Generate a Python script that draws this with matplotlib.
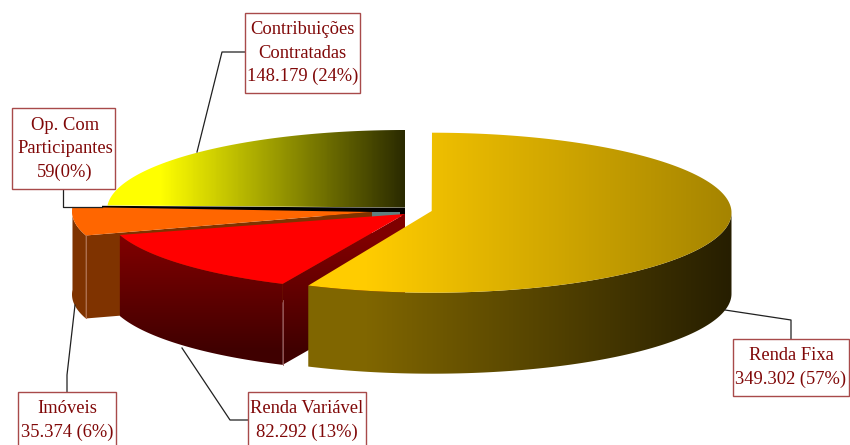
import numpy as np
import matplotlib
matplotlib.use("Agg")
import matplotlib.pyplot as plt
from matplotlib.patches import Polygon, Rectangle
from matplotlib.colors import LinearSegmentedColormap

# ---- data ----
names = ["Renda Fixa", "Renda Variável", "Imóveis", "Op. Com Participantes", "Contribuições Contratadas"]
values = [349302, 82292, 35374, 59, 148179]
label_texts = ["Renda Fixa\n349.302 (57%)", "Renda Variável\n82.292 (13%)", "Imóveis\n35.374 (6%)",
               "Op. Com\nParticipantes\n59(0%)", "Contribuições\nContratadas\n148.179 (24%)"]

# ---- layout (pixels) ----
W, H = 850, 445
RY, DEPTH = 80, 81
radii = [299.5, 301, 301, 301, 298]
centres = [(432, 212.7), (407, 211), (373, 211.5), (403, 209), (405, 210)]
apexes = [(431.7, 211), (405, 214), (372, 212), (403, 209), (405, 207.5)]
boxes = [(733, 339, 849, 396), (248, 392, 366, 446), (18, 392, 116, 446),
         (12, 108, 115, 189), (245, 13, 360, 93)]
text_dx = [0, 0, 0, 1.5, 0]
leaders = [[(791, 339), (791, 320), (725, 310)],
           [(248, 420), (230, 420), (182, 348)],
           [(67, 392), (67, 375), (75, 305)],
           [(63, 189), (63, 207), (102, 207)],
           [(245, 52), (222, 52), (197, 152)]]
TXT = "#800808"
EDGE = "#A84A4A"

fig = plt.figure(figsize=(W / 100, H / 100), dpi=100)
ax = fig.add_axes([0, 0, 1, 1])
ax.set_xlim(0, W)
ax.set_ylim(H, 0)
ax.axis("off")

total = sum(values)
edges = np.concatenate([[0], np.cumsum(values)]) / total * 2 * np.pi


def rim(i, a0, a1, n=200):
    t = np.linspace(a0, a1, n)
    c = centres[i]
    return np.column_stack([c[0] + radii[i] * np.sin(t), c[1] - RY * np.cos(t)])


def grad(poly, cols, xr=None, yr=None, z=1):
    """Fill a polygon with a clamped linear gradient, horizontal (xr) or vertical (yr)."""
    patch = Polygon(poly, closed=True, fc="none", ec="none", zorder=z)
    ax.add_patch(patch)
    cmap = LinearSegmentedColormap.from_list("g", cols)
    if xr is not None:
        arr = np.clip((np.arange(W) + 0.5 - xr[0]) / (xr[1] - xr[0]), 0, 1)[None, :]
    else:
        arr = np.clip((np.arange(H) + 0.5 - yr[0]) / (yr[1] - yr[0]), 0, 1)[:, None]
    im = ax.imshow(arr, cmap=cmap, vmin=0, vmax=1, extent=(0, W, H, 0), aspect="auto", zorder=z,
                   interpolation="nearest")
    im.set_clip_path(patch)
    ax.set_xlim(0, W)
    ax.set_ylim(H, 0)


def top(i):
    return np.vstack([[apexes[i]], rim(i, edges[i], edges[i + 1])])


def wall(i, a0, a1, d=DEPTH):
    r = rim(i, a0, a1)
    return np.vstack([r, r[::-1] + [0, d]])


def cut(i, a, d=DEPTH):
    p = rim(i, a, a, 1)[0]
    ap = np.array(apexes[i])
    return np.array([ap, p, p + [0, d], ap + [0, d]])


z = 1
# yellow slice
i = 4
grad(top(i), ["#FFFF00", "#2A2A00"], xr=(160, 405), z=z); z += 1

# zero slice (thin black band with teal side)
ax.add_patch(Polygon([(102, 205.8), (405, 207.8), (405, 216), (102, 216)], fc="black", ec="none", zorder=z)); z += 1
ax.add_patch(Polygon([(372, 212), (400, 212), (400, 218), (372, 218)], fc="#5F8080", ec="none", zorder=z)); z += 1

# orange slice
i = 2
ax.add_patch(Polygon(wall(i, edges[i], edges[i + 1], 83), fc="#7F3300", ec="none", zorder=z)); z += 1
ax.add_patch(Polygon(cut(i, edges[i], 83), fc="#7F3300", ec="none", zorder=z)); z += 1
p = rim(i, edges[i], edges[i], 1)[0]
ax.plot([p[0], p[0]], [p[1], p[1] + 83], color="#B07050", lw=0.7, zorder=z)
ax.add_patch(Polygon(top(i), fc="#FF6600", ec="none", zorder=z)); z += 1

# red slice
i = 1
red_cols = ["#7F0000", "#3F0000"]
grad(wall(i, edges[i], edges[i + 1]), red_cols, yr=(240, 352), z=z); z += 1
grad(cut(i, edges[i]), red_cols, yr=(240, 352), z=z); z += 1
p = rim(i, edges[i], edges[i], 1)[0]
ax.plot([p[0], p[0]], [p[1] + 16, p[1] + DEPTH], color="#A06060", lw=0.6, zorder=z)
ax.add_patch(Polygon(top(i), fc="#FF0000", ec="none", zorder=z)); z += 1

# gold slice
i = 0
grad(wall(i, np.pi / 2, edges[i + 1]), ["#806600", "#261E00"], xr=(366, 732), z=z); z += 1
grad(top(i), ["#FFCC00", "#A58400"], xr=(366, 732), z=z); z += 1

# leaders and label boxes
for pts in leaders:
    xs, ys = zip(*pts)
    ax.plot(xs, ys, color="#202020", lw=0.9, zorder=z)
z += 1
for (x0, y0, x1, y1), txt, dx in zip(boxes, label_texts, text_dx):
    ax.add_patch(Rectangle((x0, y0), x1 - x0, y1 - y0, fc="white", ec=EDGE, lw=1.0, zorder=z))
    n = txt.count("\n") + 1
    for k, line in enumerate(txt.split("\n")):
        yc = (y0 + y1) / 2 + (k - (n - 1) / 2) * 23.5
        if y1 > H:
            yc = y0 + 16.5 + k * 23.5
        ax.text((x0 + x1) / 2 + dx, yc, line, ha="center", va="center", color=TXT,
                family="Liberation Serif", fontsize=13.3, zorder=z + 1)

fig.savefig("out.png", dpi=100)
